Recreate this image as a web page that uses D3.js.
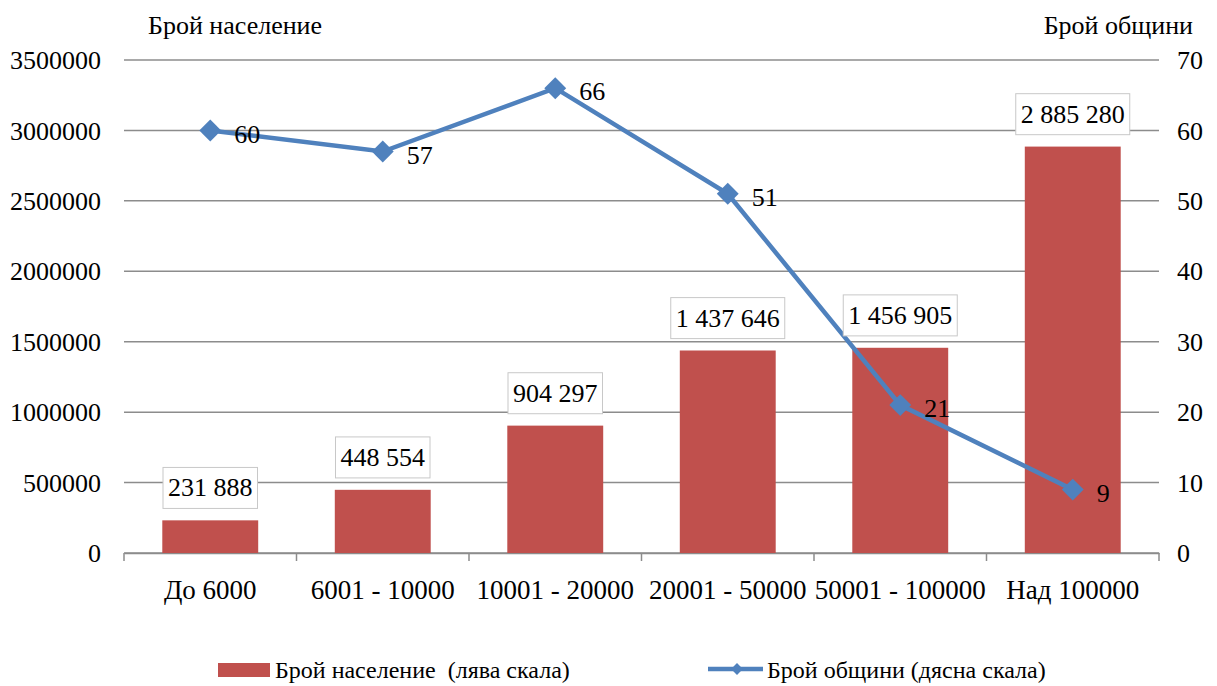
<!DOCTYPE html>
<html>
<head>
<meta charset="utf-8">
<script src="https://cdn.jsdelivr.net/npm/d3@7"></script>
<style>
  body { margin: 0; background: #fff; }
  svg text { font-family: "Liberation Serif", "Times New Roman", serif; fill: #000; }
</style>
</head>
<body>
<svg id="chart" width="1217" height="686"></svg>
<script>
// данни
var categories = ["До 6000", "6001 - 10000", "10001 - 20000", "20001 - 50000", "50001 - 100000", "Над 100000"];
var population = [231888, 448554, 904297, 1437646, 1456905, 2885280];
var municipalities = [60, 57, 66, 51, 21, 9];
var leftTicks = [0, 500000, 1000000, 1500000, 2000000, 2500000, 3000000, 3500000];
var rightTicks = [0, 10, 20, 30, 40, 50, 60, 70];

var svg = d3.select("#chart");
var plotL = 124, plotR = 1159, plotT = 60, plotB = 553;
var fs = "26px";

var x = d3.scaleBand().domain(categories).range([plotL, plotR]).paddingInner(0.444).paddingOuter(0.222);
var xb = d3.scaleBand().domain(categories).range([plotL, plotR]);
var yL = d3.scaleLinear().domain([0, 3500000]).range([plotB, plotT]);
var yR = d3.scaleLinear().domain([0, 70]).range([plotB, plotT]);

// мрежа
svg.append("g").selectAll("line").data(leftTicks).enter().append("line")
  .attr("x1", plotL).attr("x2", plotR)
  .attr("y1", d => yL(d)).attr("y2", d => yL(d))
  .attr("stroke", "#8c8c8c").attr("stroke-width", 1.5);

// лява скала
svg.append("g").selectAll("text").data(leftTicks).enter().append("text")
  .attr("x", 101).attr("y", d => yL(d)).attr("dy", "0.35em")
  .attr("text-anchor", "end").style("font-size", fs).text(d => d);

// дясна скала
svg.append("g").selectAll("text").data(rightTicks).enter().append("text")
  .attr("x", 1177).attr("y", d => yR(d)).attr("dy", "0.35em")
  .attr("text-anchor", "start").style("font-size", fs).text(d => d);

// ос x
var xAxis = d3.axisBottom(xb).tickSize(0).tickFormat("");
var gx = svg.append("g").attr("transform", "translate(0," + plotB + ")").call(xAxis);
gx.select(".domain").attr("stroke", "#8c8c8c").attr("stroke-width", 1.5);
var bounds = categories.map(c => xb(c)).concat([plotR]);
gx.selectAll(".bnd").data(bounds).enter().append("line").attr("class", "bnd")
  .attr("x1", d => d).attr("x2", d => d).attr("y1", 0).attr("y2", 8)
  .attr("stroke", "#8c8c8c").attr("stroke-width", 1.5);
svg.append("g").selectAll("text").data(categories).enter().append("text")
  .attr("x", d => xb(d) + xb.bandwidth() / 2).attr("y", 599)
  .attr("text-anchor", "middle").style("font-size", "27px").text(d => d);

// колони
svg.append("g").selectAll("rect").data(population).enter().append("rect")
  .attr("x", (d, i) => x(categories[i])).attr("width", x.bandwidth())
  .attr("y", d => yL(d)).attr("height", d => plotB - yL(d))
  .attr("fill", "#c0504d");

var fmt = d => d3.format(",")(d).replace(/,/g, " ");

// линия
var cx = i => xb(categories[i]) + xb.bandwidth() / 2;
var line = d3.line().x((d, i) => cx(i)).y(d => yR(d));
svg.append("path").datum(municipalities)
  .attr("d", line).attr("fill", "none")
  .attr("stroke", "#4f81bd").attr("stroke-width", 4.5);

// етикети на колоните
var lbl = svg.append("g").selectAll("g").data(population).enter().append("g");
lbl.append("text")
  .attr("x", (d, i) => xb(categories[i]) + xb.bandwidth() / 2)
  .attr("y", d => yL(d) - 33).attr("dy", "0.35em")
  .attr("text-anchor", "middle").style("font-size", fs)
  .text(d => fmt(d));
lbl.each(function() {
  var g = d3.select(this), t = g.select("text"), b = t.node().getBBox();
  g.insert("rect", "text")
    .attr("x", b.x - 5).attr("y", b.y - 6)
    .attr("width", b.width + 10).attr("height", b.height + 12)
    .attr("fill", "#fff").attr("stroke", "#c8c8c8").attr("stroke-width", 1);
});

// маркери - квадрат завъртян на 45 градуса
svg.append("g").selectAll("path").data(municipalities).enter().append("path")
  .attr("d", d3.symbol().type(d3.symbolSquare).size(240))
  .attr("transform", (d, i) => "translate(" + cx(i) + "," + yR(d) + ") rotate(45)")
  .attr("fill", "#4f81bd");

svg.append("g").selectAll("text").data(municipalities).enter().append("text")
  .attr("x", (d, i) => cx(i) + 24).attr("y", d => yR(d) + 3).attr("dy", "0.35em")
  .style("font-size", fs).text(d => d);

// заглавия на осите
svg.append("text").attr("x", 148).attr("y", 34).style("font-size", fs).text("Брой население");
svg.append("text").attr("x", 1193).attr("y", 34).attr("text-anchor", "end").style("font-size", fs).text("Брой общини");

// легенда
var lg = svg.append("g");
lg.append("rect").attr("x", 218).attr("y", 663).attr("width", 52).attr("height", 14).attr("fill", "#c0504d");
lg.append("text").attr("x", 275).attr("y", 670).attr("dy", "0.35em").style("font-size", "24px")
  .attr("xml:space", "preserve").text("Брой население  (лява скала)");
lg.append("line").attr("x1", 708).attr("x2", 763).attr("y1", 669).attr("y2", 669)
  .attr("stroke", "#4f81bd").attr("stroke-width", 4.5);
lg.append("path").attr("d", d3.symbol().type(d3.symbolSquare).size(70))
  .attr("transform", "translate(737,669) rotate(45)").attr("fill", "#4f81bd");
lg.append("text").attr("x", 767).attr("y", 670).attr("dy", "0.35em").style("font-size", "24px")
  .text("Брой общини (дясна скала)");
</script>
</body>
</html>
